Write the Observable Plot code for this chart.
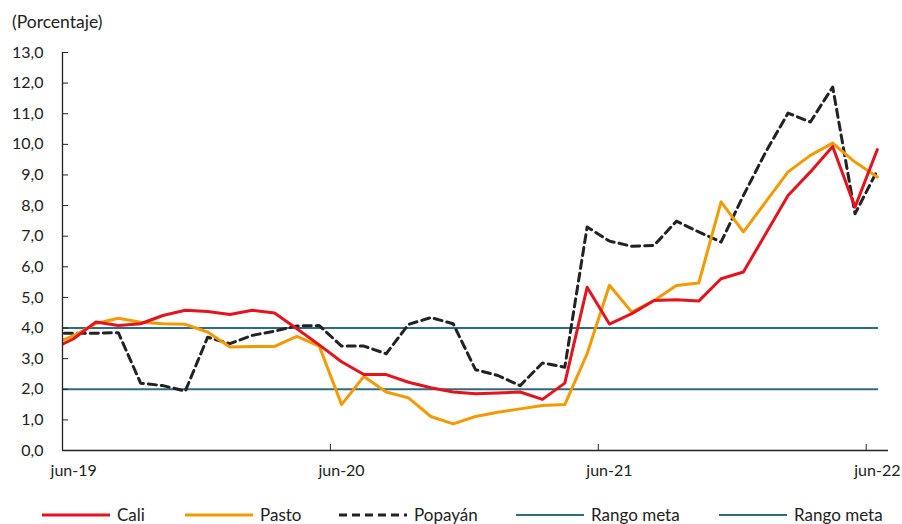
<!DOCTYPE html>
<html>
<head>
<meta charset="utf-8">
<script src="https://cdn.jsdelivr.net/npm/d3@7"></script>
<script src="https://cdn.jsdelivr.net/npm/@observablehq/plot@0.6"></script>
<style>
  html, body { margin: 0; padding: 0; background: #fff; }
  body { width: 902px; height: 524px; overflow: hidden; font-family: Lato, "Noto Sans", sans-serif; color: #222; }
  svg { display: block; }
</style>
</head>
<body>
<svg id="title" width="902" height="40"><text x="12" y="28" font-size="17.5" fill="#222" font-family="Lato, sans-serif">(Porcentaje)</text></svg>
<div id="chart"></div>
<svg id="legend" width="902" height="24"></svg>
<script>
// Months (the first one, may-19, lies just left of the plot area and is clipped)
const meses = ["may-19","jun-19","jul-19","ago-19","sep-19","oct-19","nov-19","dic-19","ene-20","feb-20","mar-20","abr-20","may-20",
  "jun-20","jul-20","ago-20","sep-20","oct-20","nov-20","dic-20","ene-21","feb-21","mar-21","abr-21","may-21",
  "jun-21","jul-21","ago-21","sep-21","oct-21","nov-21","dic-21","ene-22","feb-22","mar-22","abr-22","may-22","jun-22"];

const cali = [3.30, 3.65, 4.20, 4.08, 4.14, 4.41, 4.58, 4.54, 4.44, 4.58, 4.49, 3.98, 3.45,
  2.90, 2.48, 2.48, 2.23, 2.05, 1.91, 1.85, 1.88, 1.91, 1.67, 2.20, 5.33,
  4.13, 4.47, 4.90, 4.92, 4.88, 5.61, 5.83, 7.08, 8.33, 9.10, 9.93, 7.95, 9.83];

const pasto = [3.45, 3.75, 4.15, 4.32, 4.19, 4.14, 4.12, 3.87, 3.38, 3.40, 3.40, 3.73, 3.41,
  1.50, 2.42, 1.91, 1.72, 1.11, 0.87, 1.11, 1.25, 1.36, 1.47, 1.50, 3.16,
  5.40, 4.52, 4.90, 5.39, 5.47, 8.12, 7.14, 8.12, 9.10, 9.64, 10.04, 9.42, 8.93];

const popayan = [3.83, 3.83, 3.83, 3.85, 2.20, 2.12, 1.94, 3.70, 3.49, 3.76, 3.90, 4.07, 4.08,
  3.41, 3.41, 3.16, 4.12, 4.34, 4.14, 2.64, 2.45, 2.12, 2.86, 2.72, 7.30,
  6.84, 6.67, 6.70, 7.49, 7.14, 6.81, 8.33, 9.75, 11.02, 10.73, 11.87, 7.73, 9.15];

const rangoMetaInf = 2;
const rangoMetaSup = 4;

const etiquetasX = ["jun-19", "jun-20", "jun-21", "jun-22"];
const yTicks = [0,1,2,3,4,5,6,7,8,9,10,11,12,13];

const colores = { cali: "#E3141D", pasto: "#F39A00", popayan: "#222222", meta: "#2E6C83" };

// table (index 0 = jun-19)
const filas = meses.map((m, k) => ({
  i: k - 1, mes: m, cali: cali[k], pasto: pasto[k], popayan: popayan[k],
  metaInf: rangoMetaInf, metaSup: rangoMetaSup
}));
const idxEtiquetas = etiquetasX.map(e => meses.indexOf(e) - 1);
const nCat = meses.length - 1;               // categories shown: jun-19 .. jun-22
const xDomain = [-0.5, nCat - 0.5];
const bordes = idxEtiquetas.filter(k => k > 0).map(k => k - 0.5);

const W = 902, H = 460, mT = 12, mB = 50, mL = 62, mR = 14;
const frameW = W - mL - mR, frameH = H - mT - mB;

const chart = Plot.plot({
  width: W, height: H,
  marginTop: mT, marginBottom: mB, marginLeft: mL, marginRight: mR,
  style: { fontFamily: "Lato, 'Noto Sans', sans-serif", fontSize: "16px", color: "#222", background: "#fff" },
  x: { type: "linear", domain: xDomain },
  y: { domain: [0, 13] },
  marks: [
    Plot.lineY(filas, { x: "i", y: "metaSup", stroke: colores.meta, strokeWidth: 2, clip: true }),
    Plot.lineY(filas, { x: "i", y: "metaInf", stroke: colores.meta, strokeWidth: 2, clip: true }),
    Plot.lineY(filas, { x: "i", y: "popayan", stroke: colores.popayan, strokeWidth: 3, strokeDasharray: "8,5", clip: true }),
    Plot.lineY(filas, { x: "i", y: "pasto", stroke: colores.pasto, strokeWidth: 3, clip: true }),
    Plot.lineY(filas, { x: "i", y: "cali", stroke: colores.cali, strokeWidth: 3, clip: true }),
    // axis lines
    Plot.ruleX([xDomain[0]], { stroke: "#222", strokeWidth: 1.3 }),
    Plot.ruleY([0], { stroke: "#222", strokeWidth: 1.3 }),
    // inward tick marks
    Plot.tickY(yTicks, { y: d => d, stroke: "#222", insetRight: frameW - 6 }),
    Plot.tickX(bordes, { x: d => d, stroke: "#222", insetTop: frameH - 6 }),
    // labels
    Plot.axisY({ ticks: yTicks, tickSize: 0, tickPadding: 19, tickFormat: d => d.toFixed(1).replace(".", ","), label: null }),
    Plot.axisX({ ticks: idxEtiquetas, tickSize: 0, tickPadding: 14, tickFormat: i => meses[i + 1], label: null })
  ]
});
document.getElementById("chart").appendChild(chart);

// legend
const items = [
  { label: "Cali", color: colores.cali, dash: null, x: 42 },
  { label: "Pasto", color: colores.pasto, dash: null, x: 185 },
  { label: "Popayán", color: colores.popayan, dash: "8,5", x: 339 },
  { label: "Rango meta", color: colores.meta, dash: null, x: 516, w: 2 },
  { label: "Rango meta", color: colores.meta, dash: null, x: 719, w: 2 }
];
const leg = d3.select("#legend");
items.forEach(it => {
  leg.append("line").attr("x1", it.x).attr("x2", it.x + 68).attr("y1", 15).attr("y2", 15)
    .attr("stroke", it.color).attr("stroke-width", it.w || 3).attr("stroke-dasharray", it.dash);
  leg.append("text").attr("x", it.x + 75).attr("y", 21).attr("font-size", 17)
    .attr("font-family", "Lato, sans-serif").attr("fill", "#222").text(it.label);
});
</script>
</body>
</html>
